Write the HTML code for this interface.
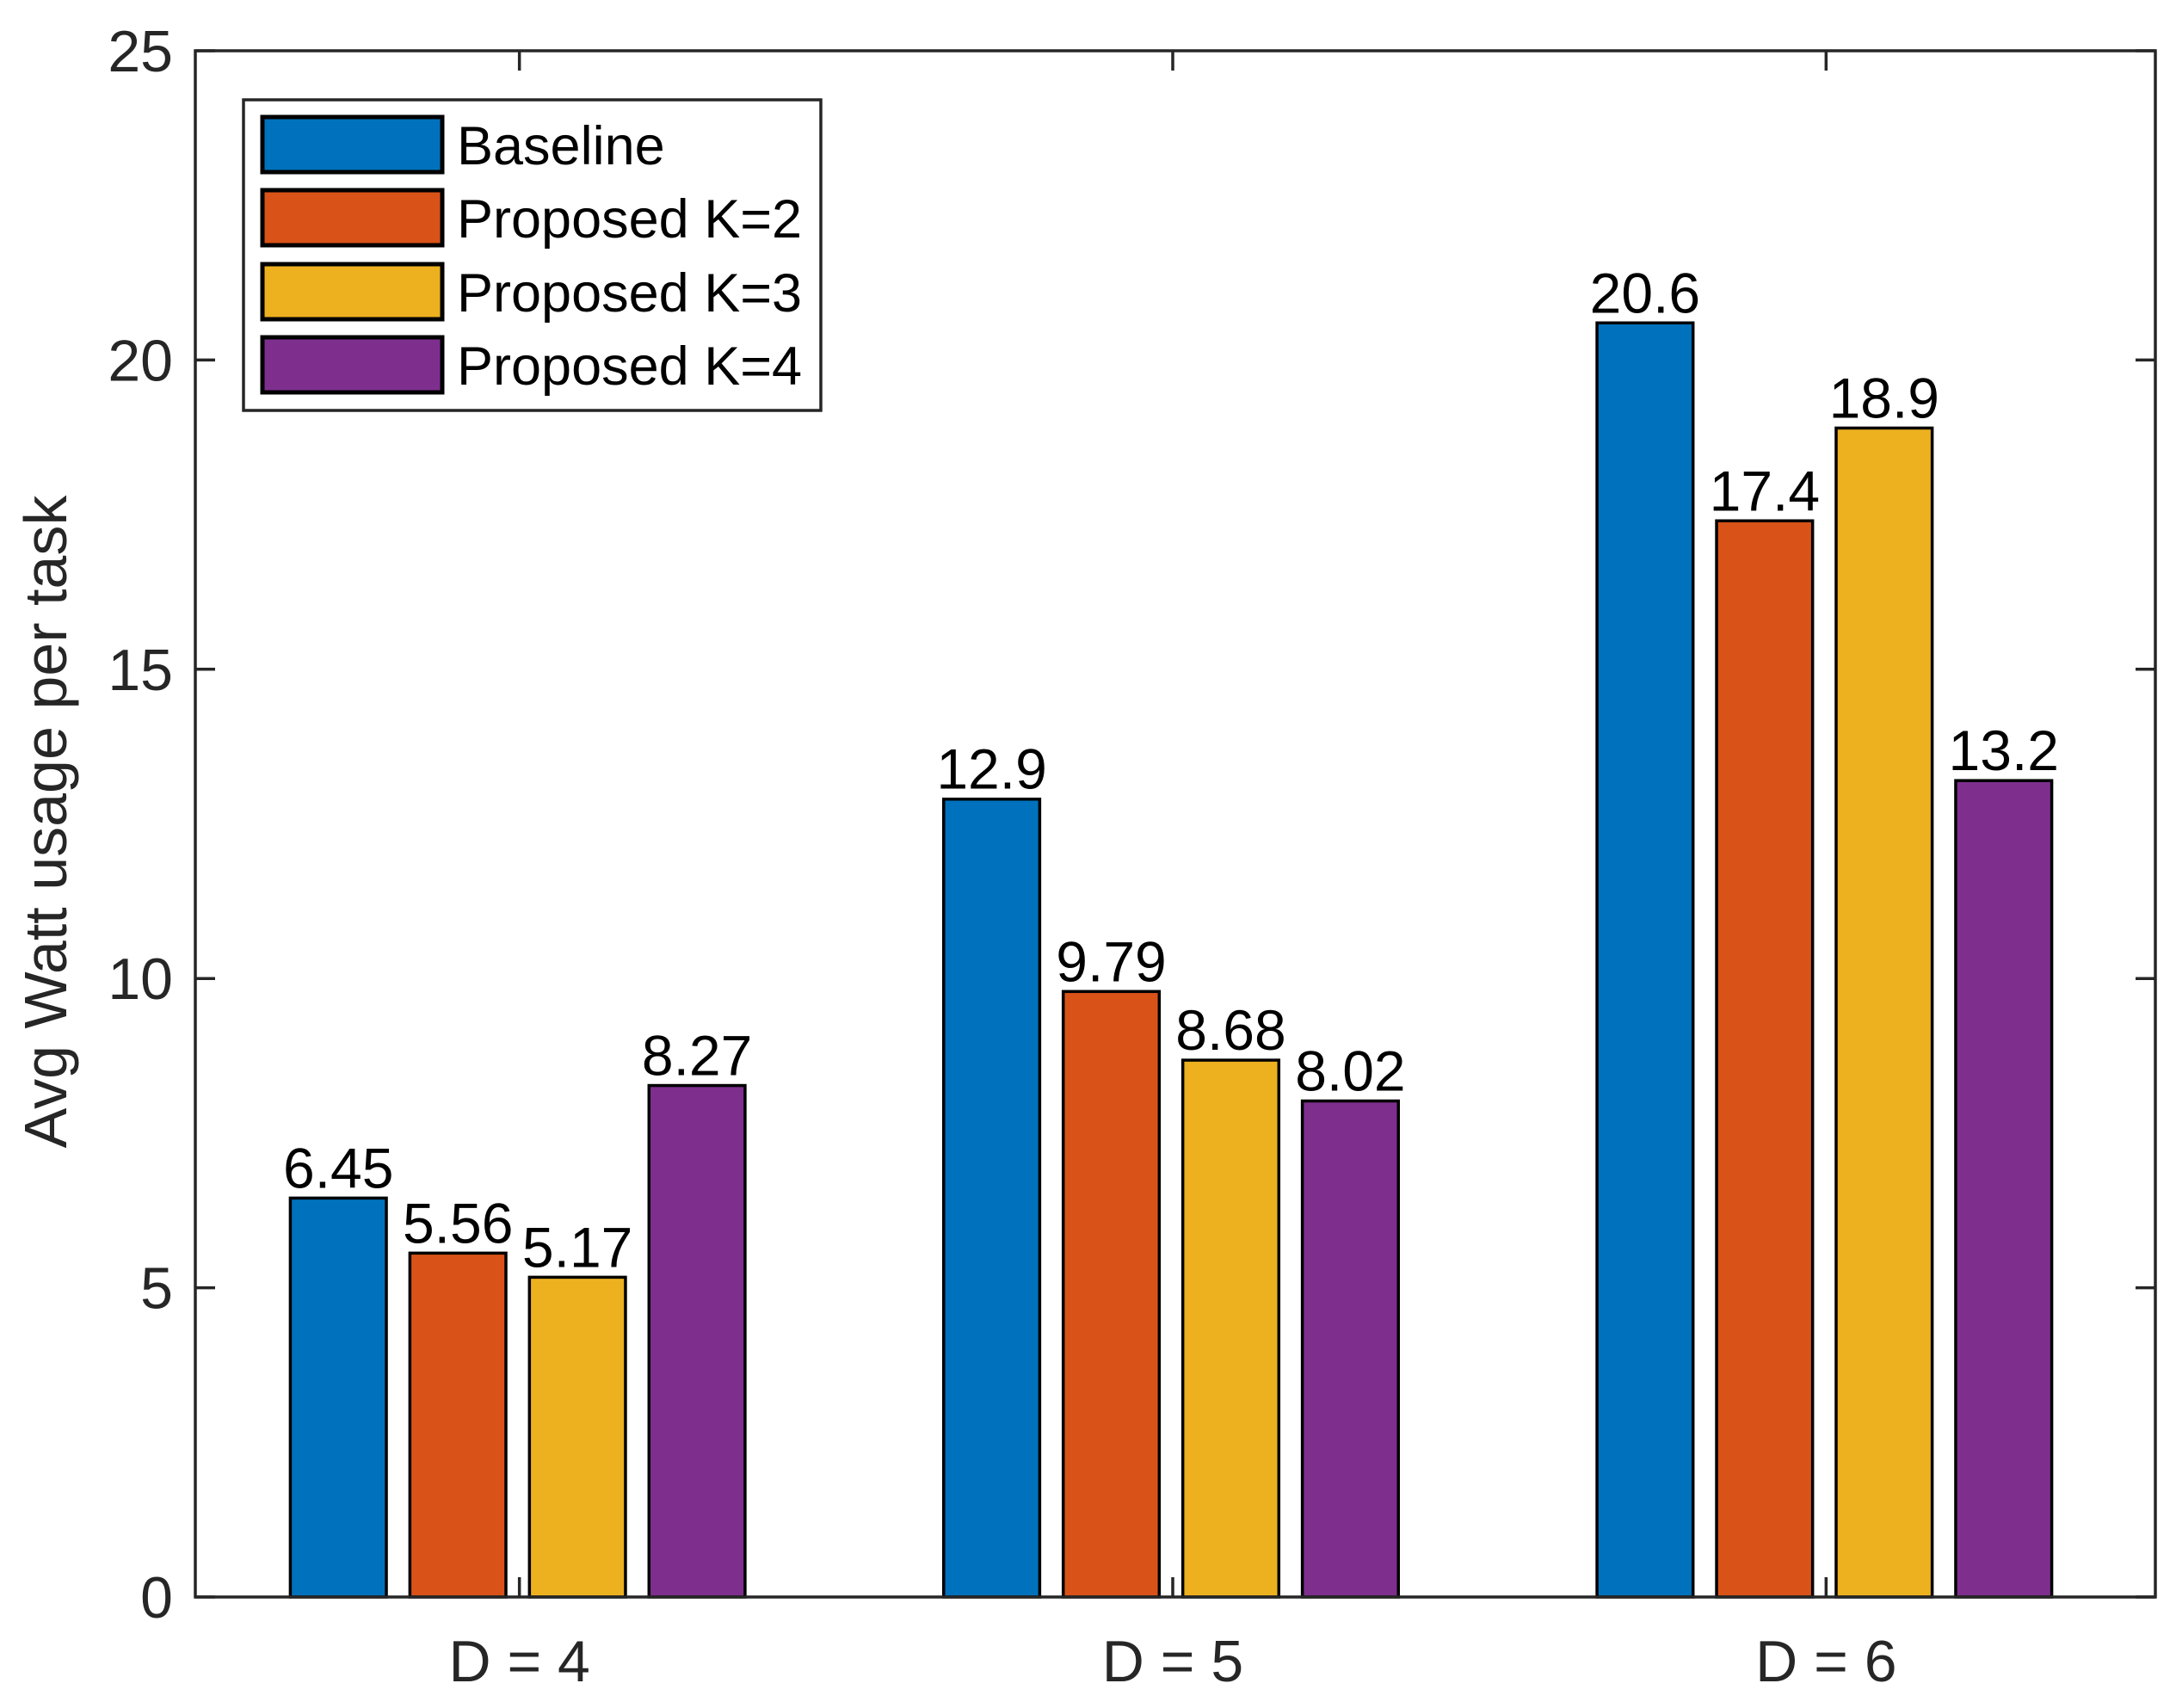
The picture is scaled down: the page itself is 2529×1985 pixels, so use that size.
<!DOCTYPE html>
<html><head><meta charset="utf-8"><style>
html,body{margin:0;padding:0;background:#fff;}
svg text{font-family:"Liberation Sans",Arial,sans-serif;fill:#262626;}
</style></head><body>
<svg id="chart" width="2529" height="1980" viewBox="0 0 2529 1980" xmlns="http://www.w3.org/2000/svg"></svg>
<script>
const categories = ["D = 4", "D = 5", "D = 6"];
const seriesNames = ["Baseline", "Proposed K=2", "Proposed K=3", "Proposed K=4"];
const baseline = [6.45, 12.9, 20.6];
const k2 = [5.56, 9.79, 17.4];
const k3 = [5.17, 8.68, 18.9];
const k4 = [8.27, 8.02, 13.2];
const valueLabels = [["6.45","12.9","20.6"],["5.56","9.79","17.4"],["5.17","8.68","18.9"],["8.27","8.02","13.2"]];
const yTicks = [0, 5, 10, 15, 20, 25];
const colors = ["#0072BD", "#D95319", "#EDB120", "#7E2F8E"];

const series = [baseline, k2, k3, k4];
const L = 227, R = 2505, T = 59, B = 1856;
const yMax = 25;
const NS = "http://www.w3.org/2000/svg";
const svg = document.getElementById("chart");
const xs = u => L + (u - 0.5) / 3 * (R - L);
const ys = v => B - v / yMax * (B - T);
function mk(tag, attrs, parent) {
  const e = document.createElementNS(NS, tag);
  for (const k in attrs) e.setAttribute(k, attrs[k]);
  (parent || svg).appendChild(e);
  return e;
}
const step = 0.183, bw = 0.147;
series.forEach((vals, s) => {
  vals.forEach((v, c) => {
    const cx = xs(c + 1 + (s - 1.5) * step) - 5;
    const w = bw / 3 * (R - L);
    const r = mk("rect", {x: cx - w / 2, y: ys(v), width: w, height: ys(0) - ys(v), fill: colors[s], stroke: "#000", "stroke-width": 3.5});
    
    
    const t = mk("text", {x: cx, y: ys(v) - 12, "font-size": 66, "text-anchor": "middle", style: "fill:#000"});
    t.textContent = valueLabels[s][c];
    
    
  });
});
const box = mk("rect", {x: L, y: T, width: R - L, height: B - T, fill: "none", stroke: "#262626", "stroke-width": 3.5});


yTicks.forEach(v => {
  const y = ys(v);
  mk("line", {x1: L, x2: L + 23, y1: y, y2: y, stroke: "#262626", "stroke-width": 3.5});
  mk("line", {x1: R, x2: R - 23, y1: y, y2: y, stroke: "#262626", "stroke-width": 3.5});
  const t = mk("text", {x: L - 26, y: y + 24, "font-size": 68, "text-anchor": "end"});
  t.textContent = v;
  
  
});
categories.forEach((c, i) => {
  const x = xs(i + 1) - 3;
  mk("line", {x1: x, x2: x, y1: B, y2: B - 23, stroke: "#262626", "stroke-width": 3.5});
  mk("line", {x1: x, x2: x, y1: T, y2: T + 23, stroke: "#262626", "stroke-width": 3.5});
  const t = mk("text", {x: x, y: 1954, "font-size": 68, "text-anchor": "middle"});
  t.textContent = c;
  
  
});
const yl = mk("text", {x: 0, y: 0, "font-size": 70, "text-anchor": "middle", transform: "translate(77,955) rotate(-90)"});
yl.textContent = "Avg Watt usage per task";


const lg = mk("g", {});


mk("rect", {x: 283, y: 116, width: 671, height: 361, fill: "#fff", stroke: "#262626", "stroke-width": 3.5}, lg);
const rowY = [136, 221, 307, 392];
seriesNames.forEach((n, i) => {
  const sw = mk("rect", {x: 305, y: rowY[i], width: 209, height: 64, fill: colors[i], stroke: "#000", "stroke-width": 5}, lg);
  
  
  const t = mk("text", {x: 531, y: rowY[i] + 55, "font-size": 63, style: "fill:#000"}, lg);
  t.textContent = n;
  
  
});
</script>
</body></html>
